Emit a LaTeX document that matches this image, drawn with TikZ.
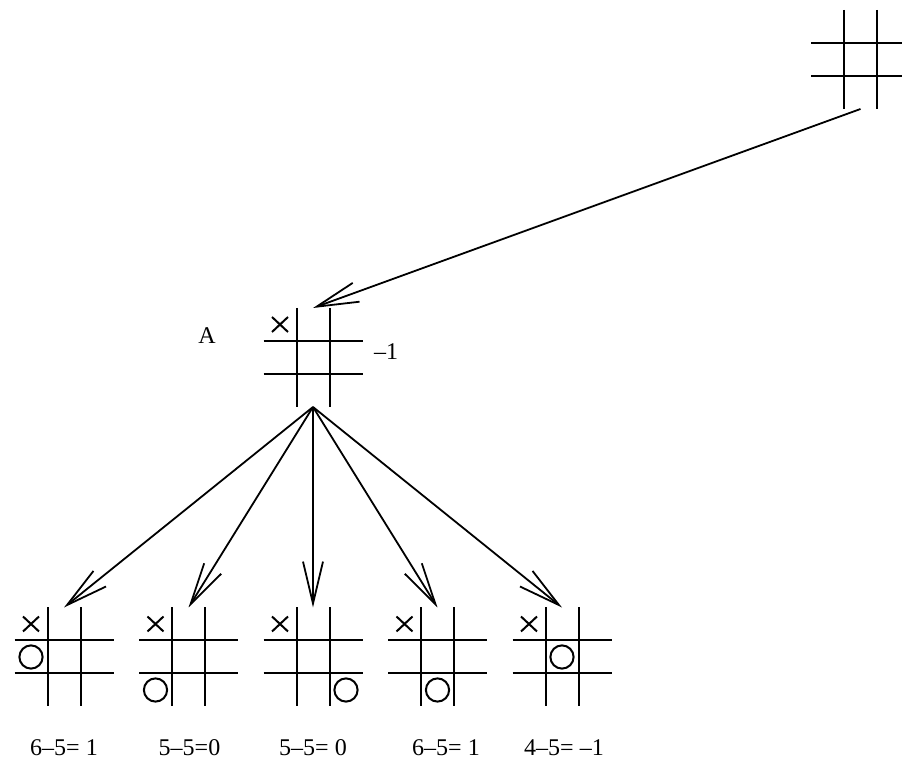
\documentclass[tikz,border=0pt]{standalone}
\usepackage{fontspec}
\setmainfont{Liberation Serif}
\usetikzlibrary{arrows.meta}

\tikzset{
    gridline/.style={line width=1pt},
    markline/.style={line width=1pt},
    move/.style={line width=0.9pt,
        -{Straight Barb[length=21pt, width=10pt, line width=0.9pt]}},
    boardbox/.style={minimum size=49.5pt, inner sep=0pt, outer sep=0pt},
    score/.style={inner sep=1pt},
    board/.pic={
        \node[boardbox] (-b) {};
        \draw[gridline] (-16.5,-49.5) -- (-16.5,49.5);
        \draw[gridline] (16.5,-49.5) -- (16.5,49.5);
        \draw[gridline] (-49.5,-16.5) -- (49.5,-16.5);
        \draw[gridline] (-49.5,16.5) -- (49.5,16.5);
    }
}
\newcommand{\xmark}[2]{\draw[markline] (#1) ++(#2) +(-8,-7.5) -- +(8,7.5) +(-8,7.5) -- +(8,-7.5);}
\newcommand{\omark}[2]{\draw[markline] (#1) ++(#2) circle (5.8pt);}

\begin{document}
\begin{tikzpicture}[x=0.5pt, y=-0.5pt, font=\fontsize{12}{14}\selectfont]
    \useasboundingbox (0,0) rectangle (902,759);

    % boards
    \pic (top) at (860.5,59.5) {board};
    \pic (A) at (313,357.5) {board};
    \pic (c1) at (64,657) {board};
    \pic (c2) at (188.5,657) {board};
    \pic (c3) at (313,657) {board};
    \pic (c4) at (437.5,657) {board};
    \pic (c5) at (562,657) {board};

    % moves
    \xmark{A-b}{-33,-33}
    \xmark{c1-b}{-33,-33}
    \omark{c1-b}{-33,0}
    \xmark{c2-b}{-33,-33}
    \omark{c2-b}{-33,33}
    \xmark{c3-b}{-33,-33}
    \omark{c3-b}{33,33}
    \xmark{c4-b}{-33,-33}
    \omark{c4-b}{0,33}
    \xmark{c5-b}{-33,-33}
    \omark{c5-b}{0,0}

    % arrows
    \draw[move] (top-b.south) -- (A-b.north);
    \draw[move] (A-b.south) -- (c1-b.north);
    \draw[move] (A-b.south) -- (c2-b.north);
    \draw[move] (A-b.south) -- (c3-b.north);
    \draw[move] (A-b.south) -- (c4-b.north);
    \draw[move] (A-b.south) -- (c5-b.north);

    % labels
    \node (nameA) at (207,336) {A};
    \node (valA) at (386,352) {--1};
    \node[score] (v1) at (64,748) {6--5= 1};
    \node[score] (v2) at (189.5,748) {5--5=0};
    \node[score] (v3) at (313,748) {5--5= 0};
    \node[score] (v4) at (446,748) {6--5= 1};
    \node[score] (v5) at (564,748) {4--5= --1};
\end{tikzpicture}
\end{document}
